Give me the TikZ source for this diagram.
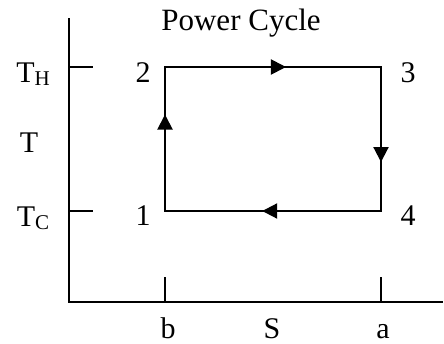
\documentclass[tikz,border=0pt]{standalone}
\usepackage{fontspec}
\setmainfont{Liberation Serif}
\usetikzlibrary{arrows.meta, positioning, decorations.markings}
\newcommand{\tsub}[1]{\raisebox{-3pt}{\fontsize{21}{22}\selectfont #1}}

\begin{document}
\begin{tikzpicture}[
    x=1pt, y=-1pt,
    lbl/.style={font=\fontsize{30}{34}\selectfont, inner sep=0pt, anchor=base},
    axisline/.style={line width=2pt},
    process/.style={line width=2pt, line cap=rect, postaction={decorate},
        decoration={markings, mark=at position #1 with {\arrow{Triangle[length=15pt,width=15pt]}}}},
]
\useasboundingbox (0,0) rectangle (444,343);

% axes
\coordinate (ytop) at (69,18);
\coordinate (origin) at (69,302);
\coordinate (xend) at (443,302);
\draw[axisline] (ytop) -- (origin) -- (xend);

% ticks
\coordinate (th) at (69,67);
\coordinate (tc) at (69,211);
\coordinate (sb) at (165,302);
\coordinate (sa) at (381,302);
\draw[axisline] (th) -- +(24,0);
\draw[axisline] (tc) -- +(24,0);
\draw[axisline] (sb) -- +(0,-25);
\draw[axisline] (sa) -- +(0,-25);

% cycle states
\coordinate (s1) at (165,211);
\coordinate (s2) at (165,67);
\coordinate (s3) at (381,67);
\coordinate (s4) at (381,211);
\draw[process=0.67] (s1) -- (s2);
\draw[process=0.56] (s2) -- (s3);
\draw[process=0.66] (s3) -- (s4);
\draw[process=0.55] (s4) -- (s1);

\node[lbl] (n1) at (143,225) {1};
\node[lbl] (n2) at (143,82) {2};
\node[lbl] (n3) at (408,82) {3};
\node[lbl] (n4) at (408,225) {4};

% axis labels
\node[lbl, font=\fontsize{31}{34}\selectfont] (title) at (241,30) {Power Cycle};
\node[lbl] (lth) at (33,82) {T\tsub{H}};
\node[lbl] (lt) at (29,152) {T};
\node[lbl] (ltc) at (33,226) {T\tsub{C}};
\node[lbl] (lb) at (168,338) {b};
\node[lbl] (ls) at (272,338) {S};
\node[lbl] (la) at (383,338) {a};
\end{tikzpicture}
\end{document}
